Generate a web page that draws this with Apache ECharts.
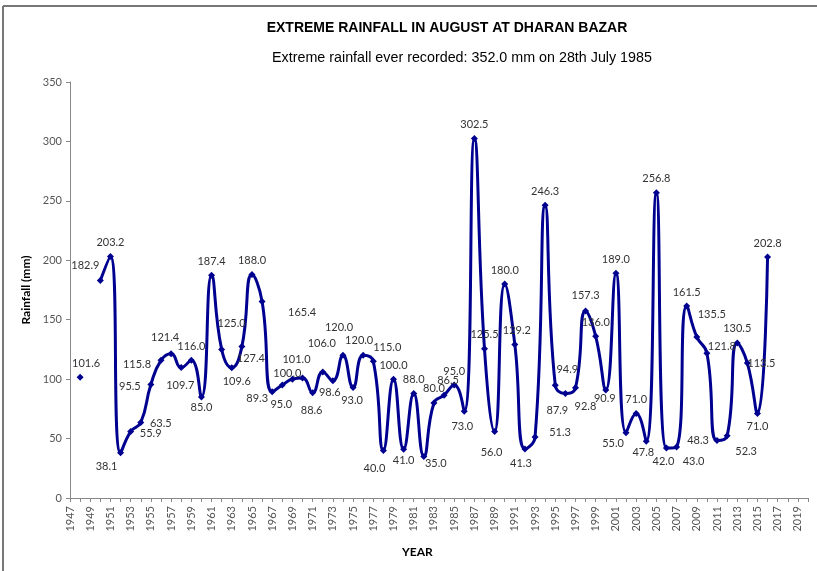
<!DOCTYPE html>
<html>
<head>
<meta charset="utf-8">
<title>Extreme rainfall in August at Dharan Bazar</title>
<script src="https://cdn.jsdelivr.net/npm/echarts@6/dist/echarts.min.js"></script>
<style>
  html, body { margin: 0; padding: 0; background: #fff; }
  #main { width: 817px; height: 571px; }
</style>
</head>
<body>
<div id="main"></div>
<script>
// years on the category axis (1947 - 2020)
var years = [];
for (var y = 1947; y <= 2020; y++) years.push(String(y));

// rainfall (mm), null where no record
var rainfall = [
  null, 101.6, null, 182.9, 203.2, 38.1, 55.9, 63.5, 95.5, 115.8,   // 1947-1956
  121.4, 109.7, 116.0, 85.0, 187.4, 125.0, 109.6, 127.4, 188.0, 165.4, // 1957-1966
  89.3, 95.0, 100.0, 101.0, 88.6, 106.0, 98.6, 120.0, 93.0, 120.0,   // 1967-1976
  115.0, 40.0, 100.0, 41.0, 88.0, 35.0, 80.0, 86.5, 95.0, 73.0,      // 1977-1986
  302.5, 125.5, 56.0, 180.0, 129.2, 41.3, 51.3, 246.3, 94.9, 87.9,   // 1987-1996
  92.8, 157.3, 136.0, 90.9, 189.0, 55.0, 71.0, 47.8, 256.8, 42.0,    // 1997-2006
  43.0, 161.5, 135.5, 121.8, 48.3, 52.3, 130.5, 113.5, 71.0, 202.8,  // 2007-2016
  null, null, null, null                                             // 2017-2020
];

// where each value label sits relative to its point (px), default is above
var labelShift = {
  1948: [6, -14], 1950: [-15, -15], 1952: [-14, 14], 1953: [20, 2], 1954: [20, 1],
  1955: [-21, 2], 1956: [-24, 4], 1957: [-6, -16], 1958: [-1, 18], 1960: [0, 10],
  1962: [10, -26], 1963: [5, 14], 1964: [9, 12], 1966: [40, 11], 1967: [-15, 7],
  1968: [-1, 19], 1969: [-5, -6], 1970: [-6, -19], 1971: [-1, 18], 1972: [-1, -29],
  1973: [-3, 12], 1974: [-4, -28], 1975: [-1, 13], 1976: [-4, -15], 1977: [14, -14],
  1978: [-9, 18], 1980: [0, 11], 1982: [12, 7], 1984: [4, -15], 1986: [-2, 15],
  1989: [-3, 21], 1991: [2, -14], 1992: [-4, 15], 1993: [25, -5], 1995: [12, -16],
  1996: [-8, 17], 1997: [10, 19], 1998: [0, -16], 2000: [-1, 8], 2002: [-13, 11],
  2004: [-3, 11], 2006: [-3, 13], 2007: [17, 15], 2009: [15, -22], 2010: [15, -7],
  2011: [-19, 0], 2012: [19, 16], 2014: [14, 0], 2015: [0, 13]
};

var SYM = 7;
var chart = echarts.init(document.getElementById('main'));

var seriesData = rainfall.map(function (v, i) {
  var s = labelShift[years[i]] || [0, -14];
  return {
    value: v,
    label: { position: [SYM / 2 + s[0], SYM / 2 + s[1]] }
  };
});

var option = {
  backgroundColor: '#fff',
  animation: false,
  title: [
    {
      text: 'EXTREME RAINFALL IN AUGUST AT DHARAN BAZAR',
      left: 442, top: 16, textAlign: 'center',
      textStyle: { fontFamily: 'Liberation Sans', fontSize: 14, fontWeight: 'bold', color: '#000' }
    },
    {
      text: 'Extreme rainfall ever recorded: 352.0 mm on 28th July 1985',
      left: 457, top: 46, textAlign: 'center',
      textStyle: { fontFamily: 'Liberation Sans', fontSize: 14.3, fontWeight: 'normal', color: '#000' }
    }
  ],
  grid: { left: 70, right: 9, top: 82, bottom: 73 },
  xAxis: {
    type: 'category',
    data: years,
    boundaryGap: false,
    axisLine: { lineStyle: { color: '#888', width: 1 } },
    axisTick: { show: true, interval: 0, length: 4, lineStyle: { color: '#888' } },
    axisLabel: {
      interval: 1,
      rotate: 90,
      margin: 8,
      fontFamily: 'Lato',
      fontSize: 11,
      color: '#555'
    },
    splitLine: { show: false }
  },
  yAxis: {
    type: 'value',
    min: 0, max: 350, interval: 50,
    name: 'Rainfall (mm)',
    nameLocation: 'middle',
    nameGap: 34,
    nameTextStyle: { fontFamily: 'Lato', fontSize: 12, fontWeight: 'bold', color: '#000' },
    axisLine: { show: true, lineStyle: { color: '#888', width: 1 } },
    axisTick: { show: true, length: 4, lineStyle: { color: '#888' } },
    axisLabel: { margin: 8, fontFamily: 'Lato', fontSize: 11, color: '#555' },
    splitLine: { show: false }
  },
  series: [
    {
      name: 'Rainfall',
      type: 'line',
      data: seriesData,
      smooth: 0.5,
      connectNulls: false,
      showSymbol: true,
      showAllSymbol: true,
      symbol: 'diamond',
      symbolSize: SYM,
      itemStyle: { color: '#000090' },
      lineStyle: { color: '#000090', width: 3 },
      label: {
        show: true,
        align: 'center',
        verticalAlign: 'middle',
        fontFamily: 'Lato',
        fontSize: 11,
        color: '#333',
        formatter: function (p) { return p.value == null ? '' : Number(p.value).toFixed(1); }
      },
      labelLayout: { hideOverlap: false }
    }
  ],
  graphic: [
    {
      type: 'text', left: 402, top: 546,
      style: { text: 'YEAR', fontFamily: 'Lato', fontSize: 12, fontWeight: 'bold', fill: '#000' }
    },
    {
      type: 'line', shape: { x1: 3, y1: 6, x2: 817, y2: 6 },
      style: { stroke: '#777', lineWidth: 2 }
    },
    {
      type: 'line', shape: { x1: 3, y1: 6, x2: 3, y2: 571 },
      style: { stroke: '#777', lineWidth: 2 }
    }
  ]
};

chart.setOption(option);
</script>
</body>
</html>
